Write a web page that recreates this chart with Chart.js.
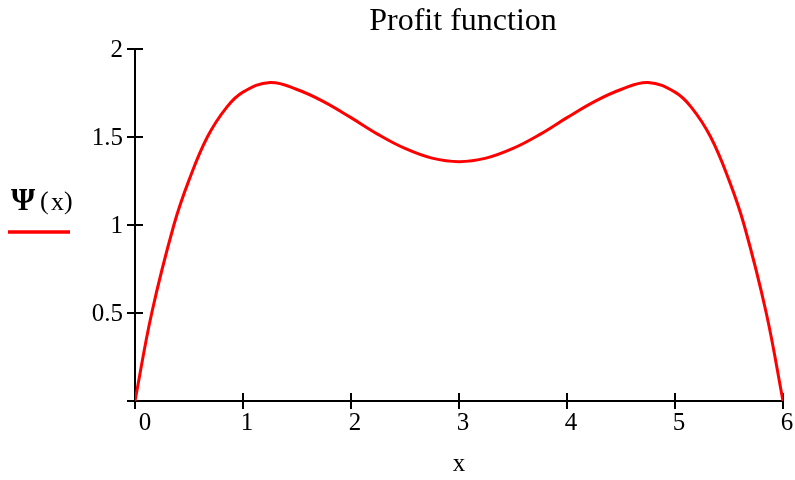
<!DOCTYPE html>
<html>
<head>
<meta charset="utf-8">
<script src="https://cdn.jsdelivr.net/npm/chart.js@4"></script>
<style>
  html, body { margin: 0; padding: 0; background: #fff; }
  #wrap { width: 795px; height: 480px; }
</style>
</head>
<body>
<div id="wrap"><canvas id="profit" width="795" height="480"></canvas></div>
<script>
// Profit function Ψ(x)
const X_VALUES = [0, 0.155, 0.36, 0.5, 0.67, 0.85, 1, 1.25, 1.5, 1.75, 2, 2.25, 2.5, 2.75, 3,
  3.25, 3.5, 3.75, 4, 4.25, 4.5, 4.75, 5, 5.15, 5.33, 5.5, 5.64, 5.845, 6];
const PSI_VALUES = [0, 0.5, 1.0, 1.255, 1.5, 1.67, 1.755, 1.81, 1.77, 1.70, 1.61, 1.515, 1.435, 1.38, 1.36,
  1.38, 1.435, 1.515, 1.61, 1.70, 1.77, 1.81, 1.755, 1.67, 1.5, 1.255, 1.0, 0.5, 0];
const X_TICKS = [0, 1, 2, 3, 4, 5, 6];
const Y_TICKS = [0, 0.5, 1, 1.5, 2];
const Y_TICK_LABELS = ['', '0.5', '1', '1.5', '2'];

const serif = "'Liberation Serif', 'Times New Roman', serif";

const mathcadAxes = {
  id: 'mathcadAxes',
  beforeDatasetsDraw(chart) {
    const ctx = chart.ctx;
    const xs = chart.scales.x;
    const ys = chart.scales.y;
    const x0 = xs.getPixelForValue(0);
    const y0 = ys.getPixelForValue(0);
    ctx.save();
    ctx.strokeStyle = '#000';
    ctx.lineWidth = 2;
    ctx.beginPath();
    // axes
    ctx.moveTo(x0, ys.getPixelForValue(2));
    ctx.lineTo(x0, y0);
    ctx.moveTo(x0 - 8, y0);
    ctx.lineTo(xs.getPixelForValue(6), y0);
    // ticks
    Y_TICKS.forEach(v => {
      const py = ys.getPixelForValue(v);
      ctx.moveTo(x0 - 8, py);
      ctx.lineTo(x0 + 8, py);
    });
    X_TICKS.forEach(v => {
      const px = xs.getPixelForValue(v);
      ctx.moveTo(px, y0 - 8);
      ctx.lineTo(px, y0 + 8);
    });
    ctx.stroke();

    ctx.fillStyle = '#000';
    ctx.font = '25px ' + serif;
    ctx.textAlign = 'right';
    ctx.textBaseline = 'middle';
    Y_TICKS.forEach((v, i) => {
      ctx.fillText(Y_TICK_LABELS[i], x0 - 12, ys.getPixelForValue(v) + 1);
    });
    ctx.textAlign = 'center';
    X_TICKS.forEach(v => {
      const px = xs.getPixelForValue(v) + (v === 0 ? 10 : 4);
      ctx.fillText(String(v), px, y0 + 22);
    });

    // title and axis name
    const mid = (chart.chartArea.left + chart.chartArea.right) / 2;
    ctx.font = '32px ' + serif;
    ctx.fillText('Profit function', mid + 4, 22);
    ctx.font = '25px ' + serif;
    ctx.fillText('x', mid, 464);

    // legend-style trace label
    ctx.textAlign = 'left';
    ctx.font = 'bold 31px ' + serif;
    ctx.fillText('\u03A8', 11, 202);
    ctx.font = '26px ' + serif;
    ctx.fillText('(', 40, 202);
    ctx.fillText('x', 51, 203);
    ctx.fillText(')', 64, 202);
    ctx.strokeStyle = '#ff0000';
    ctx.lineWidth = 3.5;
    ctx.beginPath();
    ctx.moveTo(8, 232);
    ctx.lineTo(70, 232);
    ctx.stroke();
    ctx.restore();
  }
};

new Chart(document.getElementById('profit'), {
  type: 'line',
  data: {
    datasets: [{
      label: 'Ψ(x)',
      data: X_VALUES.map((x, i) => ({ x: x, y: PSI_VALUES[i] })),
      borderColor: '#ff0000',
      borderWidth: 3,
      pointRadius: 0,
      fill: false,
      tension: 0.4
    }]
  },
  options: {
    responsive: false,
    animation: false,
    layout: { padding: { left: 135, right: 12, top: 49, bottom: 79 } },
    plugins: {
      legend: { display: false },
      tooltip: { enabled: false },
      title: { display: false }
    },
    scales: {
      x: { type: 'linear', min: 0, max: 6, display: false },
      y: { type: 'linear', min: 0, max: 2, display: false }
    }
  },
  plugins: [mathcadAxes]
});
</script>
</body>
</html>
